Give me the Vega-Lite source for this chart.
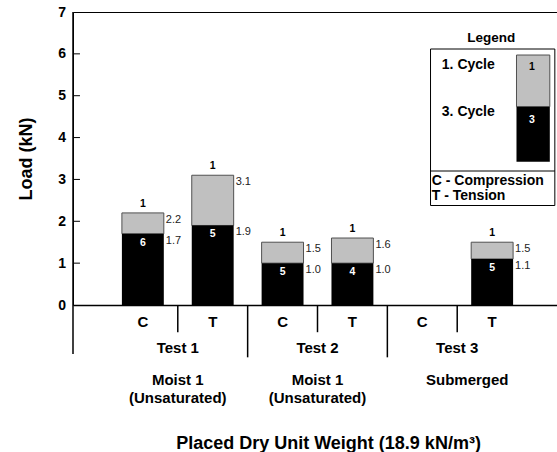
{
  "$schema": "https://vega.github.io/schema/vega-lite/v6.json",
  "width": 484,
  "height": 293,
  "autosize": "none",
  "padding": {"left": 73, "top": 12, "right": 0, "bottom": 147},
  "background": "white",
  "config": {
    "font": "Liberation Sans",
    "view": {"stroke": "black", "strokeWidth": 1},
    "axis": {"grid": false},
    "text": {"font": "Liberation Sans"}
  },
  "datasets": {
    "bars": [
      {"col": "T1C", "test": "Test 1", "mode": "C", "condition": "Moist 1\n(Unsaturated)", "cycle1": 2.2, "cycle3": 1.7, "n1": 1, "n3": 6},
      {"col": "T1T", "test": "Test 1", "mode": "T", "condition": "Moist 1\n(Unsaturated)", "cycle1": 3.1, "cycle3": 1.9, "n1": 1, "n3": 5},
      {"col": "T2C", "test": "Test 2", "mode": "C", "condition": "Moist 1\n(Unsaturated)", "cycle1": 1.5, "cycle3": 1.0, "n1": 1, "n3": 5},
      {"col": "T2T", "test": "Test 2", "mode": "T", "condition": "Moist 1\n(Unsaturated)", "cycle1": 1.6, "cycle3": 1.0, "n1": 1, "n3": 4},
      {"col": "T3C", "test": "Test 3", "mode": "C", "condition": "Submerged"},
      {"col": "T3T", "test": "Test 3", "mode": "T", "condition": "Submerged", "cycle1": 1.5, "cycle3": 1.1, "n1": 1, "n3": 5}
    ],
    "legend": [
      {"title": "Legend"}
    ],
    "yticks": [
      {"load": 1}, {"load": 2}, {"load": 3}, {"load": 4}, {"load": 5}, {"load": 6}
    ]
  },
  "resolve": {"scale": {"x": "independent"}, "axis": {"x": "independent"}},
  "layer": [
    {
      "data": {"name": "bars"},
      "layer": [
        {
          "mark": {"type": "bar", "color": "#c0c0c0", "stroke": "#505050", "strokeWidth": 1, "width": {"band": 0.6}},
          "encoding": {
            "x": {"field": "col", "type": "nominal", "scale": {"domain": ["T1C", "T1T", "T2C", "T2T", "T3C", "T3T"], "range": [0, 489], "paddingInner": 0, "paddingOuter": 0.5},
              "axis": {"title": "Placed Dry Unit Weight (18.9 kN/m³)", "labels": false, "ticks": false, "domain": true, "domainColor": "black", "domainWidth": 1.5, "titleFontSize": 18, "titleFontWeight": "bold", "titleColor": "black", "titlePadding": 129, "titleX": 255, "titleAlign": "center", "zindex": 1}},
            "y": {"field": "cycle1", "type": "quantitative", "scale": {"domain": [0, 7], "nice": false, "zero": true},
              "axis": {"title": "Load (kN)", "values": [0, 1, 2, 3, 4, 5, 6, 7], "domain": false, "ticks": false, "titleFontSize": 18, "titleFontWeight": "bold", "titleColor": "black", "titlePadding": 22, "labelFontSize": 14, "labelFontWeight": "bold", "labelColor": "black", "labelPadding": 7.5, "zindex": 1}},
            "y2": {"field": "cycle3"}
          }
        },
        {
          "mark": {"type": "bar", "color": "black", "width": {"band": 0.6}},
          "encoding": {
            "x": {"field": "col", "type": "nominal", "scale": {"domain": ["T1C", "T1T", "T2C", "T2T", "T3C", "T3T"], "range": [0, 489], "paddingInner": 0, "paddingOuter": 0.5}},
            "y": {"field": "cycle3", "type": "quantitative"}
          }
        },
        {
          "mark": {"type": "text", "fontSize": 10.5, "fontWeight": "bold", "color": "black", "baseline": "middle", "dy": -9},
          "encoding": {
            "x": {"field": "col", "type": "nominal", "scale": {"domain": ["T1C", "T1T", "T2C", "T2T", "T3C", "T3T"], "range": [0, 489], "paddingInner": 0, "paddingOuter": 0.5}},
            "y": {"field": "cycle1", "type": "quantitative"},
            "text": {"field": "n1"}
          }
        },
        {
          "mark": {"type": "text", "fontSize": 10.5, "fontWeight": "bold", "color": "white", "baseline": "middle", "dy": 9},
          "encoding": {
            "x": {"field": "col", "type": "nominal", "scale": {"domain": ["T1C", "T1T", "T2C", "T2T", "T3C", "T3T"], "range": [0, 489], "paddingInner": 0, "paddingOuter": 0.5}},
            "y": {"field": "cycle3", "type": "quantitative"},
            "text": {"field": "n3"}
          }
        },
        {
          "mark": {"type": "text", "fontSize": 11, "color": "#222222", "align": "left", "baseline": "middle", "dx": 2, "dy": 7},
          "encoding": {
            "x": {"field": "col", "type": "nominal", "bandPosition": 0.8, "scale": {"domain": ["T1C", "T1T", "T2C", "T2T", "T3C", "T3T"], "range": [0, 489], "paddingInner": 0, "paddingOuter": 0.5}},
            "y": {"field": "cycle1", "type": "quantitative"},
            "text": {"field": "cycle1", "format": ".1f"}
          }
        },
        {
          "mark": {"type": "text", "fontSize": 11, "color": "#222222", "align": "left", "baseline": "middle", "dx": 2, "dy": 7},
          "encoding": {
            "x": {"field": "col", "type": "nominal", "bandPosition": 0.8, "scale": {"domain": ["T1C", "T1T", "T2C", "T2T", "T3C", "T3T"], "range": [0, 489], "paddingInner": 0, "paddingOuter": 0.5}},
            "y": {"field": "cycle3", "type": "quantitative"},
            "text": {"field": "cycle3", "format": ".1f"}
          }
        },
        {
          "mark": {"type": "text", "fontSize": 15, "fontWeight": "bold", "color": "black", "baseline": "middle"},
          "encoding": {
            "x": {"field": "col", "type": "nominal", "scale": {"domain": ["T1C", "T1T", "T2C", "T2T", "T3C", "T3T"], "range": [0, 489], "paddingInner": 0, "paddingOuter": 0.5}},
            "y": {"datum": -0.4},
            "text": {"field": "mode"}
          }
        },
        {
          "transform": [{"filter": "datum.mode == 'T'"}],
          "mark": {"type": "rule", "color": "black", "strokeWidth": 1.5},
          "encoding": {
            "x": {"field": "col", "type": "nominal", "bandPosition": 0, "scale": {"domain": ["T1C", "T1T", "T2C", "T2T", "T3C", "T3T"], "range": [0, 489], "paddingInner": 0, "paddingOuter": 0.5}},
            "y": {"datum": 0},
            "y2": {"datum": -0.65}
          }
        },
        {
          "transform": [{"filter": "datum.mode == 'C' && datum.test != 'Test 1'"}],
          "mark": {"type": "rule", "color": "black", "strokeWidth": 1.5},
          "encoding": {
            "x": {"field": "col", "type": "nominal", "bandPosition": 0, "scale": {"domain": ["T1C", "T1T", "T2C", "T2T", "T3C", "T3T"], "range": [0, 489], "paddingInner": 0, "paddingOuter": 0.5}},
            "y": {"datum": 0},
            "y2": {"datum": -1.25}
          }
        },
        {
          "transform": [{"filter": "datum.mode == 'T'"}],
          "mark": {"type": "text", "fontSize": 15, "fontWeight": "bold", "color": "black", "baseline": "middle"},
          "encoding": {
            "x": {"field": "col", "type": "nominal", "bandPosition": 0, "scale": {"domain": ["T1C", "T1T", "T2C", "T2T", "T3C", "T3T"], "range": [0, 489], "paddingInner": 0, "paddingOuter": 0.5}},
            "y": {"datum": -1.03},
            "text": {"field": "test"}
          }
        },
        {
          "transform": [{"filter": "datum.mode == 'T' && datum.test != 'Test 3'"}],
          "mark": {"type": "text", "fontSize": 15, "fontWeight": "bold", "color": "black", "baseline": "middle", "lineBreak": "\n", "lineHeight": 18},
          "encoding": {
            "x": {"field": "col", "type": "nominal", "bandPosition": 0, "scale": {"domain": ["T1C", "T1T", "T2C", "T2T", "T3C", "T3T"], "range": [0, 489], "paddingInner": 0, "paddingOuter": 0.5}},
            "y": {"datum": -1.79},
            "text": {"field": "condition"}
          }
        },
        {
          "transform": [{"filter": "datum.mode == 'T' && datum.test == 'Test 3'"}],
          "mark": {"type": "text", "fontSize": 15, "fontWeight": "bold", "color": "black", "baseline": "middle", "dx": 10},
          "encoding": {
            "x": {"field": "col", "type": "nominal", "bandPosition": 0, "scale": {"domain": ["T1C", "T1T", "T2C", "T2T", "T3C", "T3T"], "range": [0, 489], "paddingInner": 0, "paddingOuter": 0.5}},
            "y": {"datum": -1.79},
            "text": {"field": "condition"}
          }
        }
      ]
    },
    {
      "data": {"name": "legend"},
      "layer": [
        {
          "data": {"name": "yticks"},
          "mark": {"type": "rule", "color": "black", "strokeWidth": 1},
          "encoding": {
            "x": {"datum": 0, "type": "quantitative", "scale": {"domain": [0, 6.93], "nice": false}, "axis": null},
            "x2": {"datum": 0.1},
            "y": {"field": "load", "type": "quantitative"}
          }
        },
        {
          "mark": {"type": "rule", "color": "black", "strokeWidth": 1.5},
          "encoding": {
            "x": {"datum": 0, "type": "quantitative", "scale": {"domain": [0, 6.93], "nice": false}, "axis": null},
            "y": {"datum": 7},
            "y2": {"datum": -1.17}
          }
        },
        {
          "mark": {"type": "rect", "fill": "white", "stroke": "black", "strokeWidth": 1},
          "encoding": {
            "x": {"datum": 5.119, "type": "quantitative", "scale": {"domain": [0, 6.93], "nice": false}, "axis": null},
            "x2": {"datum": 6.899},
            "y": {"datum": 6.116},
            "y2": {"datum": 2.377}
          }
        },
        {
          "mark": {"type": "rule", "color": "black", "strokeWidth": 1},
          "encoding": {
            "x": {"datum": 5.119, "type": "quantitative", "scale": {"domain": [0, 6.93], "nice": false}, "axis": null},
            "x2": {"datum": 6.899},
            "y": {"datum": 3.201}
          }
        },
        {
          "mark": {"type": "rect", "fill": "#c0c0c0", "stroke": "#505050", "strokeWidth": 1},
          "encoding": {
            "x": {"datum": 6.35, "type": "quantitative", "scale": {"domain": [0, 6.93], "nice": false}, "axis": null},
            "x2": {"datum": 6.827},
            "y": {"datum": 5.972},
            "y2": {"datum": 4.737}
          }
        },
        {
          "mark": {"type": "rect", "fill": "black"},
          "encoding": {
            "x": {"datum": 6.35, "type": "quantitative", "scale": {"domain": [0, 6.93], "nice": false}, "axis": null},
            "x2": {"datum": 6.827},
            "y": {"datum": 4.737},
            "y2": {"datum": 3.423}
          }
        },
        {
          "mark": {"type": "text", "fontSize": 13.5, "fontWeight": "bold", "color": "black", "align": "center", "baseline": "middle"},
          "encoding": {
            "x": {"datum": 5.988, "type": "quantitative", "scale": {"domain": [0, 6.93], "nice": false}, "axis": null},
            "y": {"datum": 6.371},
            "text": {"field": "title"}
          }
        },
        {
          "mark": {"type": "text", "text": "1. Cycle", "fontSize": 14, "fontWeight": "bold", "color": "black", "align": "left", "baseline": "middle"},
          "encoding": {
            "x": {"datum": 5.281, "type": "quantitative", "scale": {"domain": [0, 6.93], "nice": false}, "axis": null},
            "y": {"datum": 5.733}
          }
        },
        {
          "mark": {"type": "text", "text": "3. Cycle", "fontSize": 14, "fontWeight": "bold", "color": "black", "align": "left", "baseline": "middle"},
          "encoding": {
            "x": {"datum": 5.281, "type": "quantitative", "scale": {"domain": [0, 6.93], "nice": false}, "axis": null},
            "y": {"datum": 4.618}
          }
        },
        {
          "mark": {"type": "text", "text": "1", "fontSize": 10.5, "fontWeight": "bold", "color": "black", "align": "center", "baseline": "middle"},
          "encoding": {
            "x": {"datum": 6.57, "type": "quantitative", "scale": {"domain": [0, 6.93], "nice": false}, "axis": null},
            "y": {"datum": 5.693}
          }
        },
        {
          "mark": {"type": "text", "text": "3", "fontSize": 10.5, "fontWeight": "bold", "color": "white", "align": "center", "baseline": "middle"},
          "encoding": {
            "x": {"datum": 6.57, "type": "quantitative", "scale": {"domain": [0, 6.93], "nice": false}, "axis": null},
            "y": {"datum": 4.419}
          }
        },
        {
          "mark": {"type": "text", "text": "C - Compression", "fontSize": 14, "fontWeight": "bold", "color": "black", "align": "left", "baseline": "middle"},
          "encoding": {
            "x": {"datum": 5.137, "type": "quantitative", "scale": {"domain": [0, 6.93], "nice": false}, "axis": null},
            "y": {"datum": 2.962}
          }
        },
        {
          "mark": {"type": "text", "text": "T - Tension", "fontSize": 14, "fontWeight": "bold", "color": "black", "align": "left", "baseline": "middle"},
          "encoding": {
            "x": {"datum": 5.137, "type": "quantitative", "scale": {"domain": [0, 6.93], "nice": false}, "axis": null},
            "y": {"datum": 2.604}
          }
        }
      ]
    }
  ]
}
